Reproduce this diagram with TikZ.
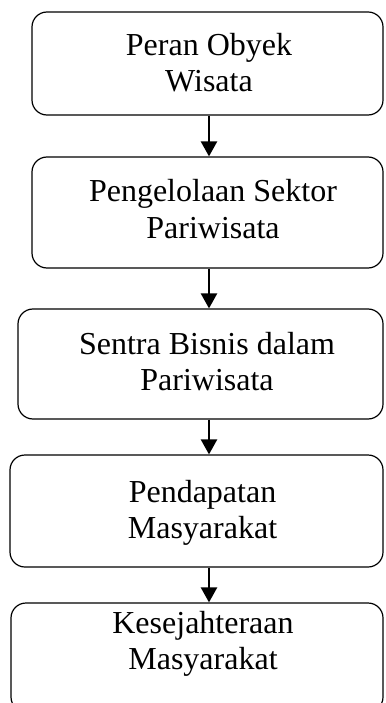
\documentclass[tikz,border=0pt]{standalone}
\usepackage{fontspec}
\setmainfont{Liberation Serif}
\usetikzlibrary{arrows.meta,positioning,calc}

\begin{document}
\begin{tikzpicture}[x=1pt, y=-1pt,
    kotak/.style={rectangle, draw, rounded corners=15pt, line width=1.2pt, inner sep=0pt},
    teks/.style={align=center, inner sep=0pt, font=\fontsize{32}{36.5}\selectfont},
    panah/.style={-{Triangle[width=16pt,length=15pt]}, line width=2.4pt}]

\useasboundingbox (0,0) rectangle (385,703);
\clip (0,0) rectangle (385,703);

    % kotak-kotak

\node[kotak, minimum width=351pt, minimum height=103pt] (peran) at (207.5,63.5) {};
\node[kotak, minimum width=351pt, minimum height=111pt] (pengelolaan) at (207.5,212.5) {};
\node[kotak, minimum width=365pt, minimum height=110pt] (sentra) at (200.5,364) {};
\node[kotak, minimum width=373pt, minimum height=112pt] (pendapatan) at (196.5,511) {};
\node[kotak, minimum width=372pt, minimum height=109pt] (kesejahteraan) at (197,657.5) {};

    % teks

\node[teks] (peranT) at (209,66) {\strut Peran Obyek\\\strut Wisata};
\node[teks] (pengelolaanT) at (213,212.6) {\strut Pengelolaan Sektor\\\strut Pariwisata};
\node[teks] (sentraT) at (207,365) {\strut Sentra Bisnis dalam\\\strut Pariwisata};
\node[teks] (pendapatanT) at (202.5,513) {\strut Pendapatan\\\strut Masyarakat};
\node[teks] (kesejahteraanT) at (203,644) {\strut Kesejahteraan\\\strut Masyarakat};

    % -------

\coordinate (arrx) at (209,0);
\draw[panah] (peran.south -| arrx) -- (pengelolaan.north -| arrx);
\draw[panah] (pengelolaan.south -| arrx) -- (sentra.north -| arrx);
\draw[panah] (sentra.south -| arrx) -- (pendapatan.north -| arrx);
\draw[panah] (pendapatan.south -| arrx) -- (kesejahteraan.north -| arrx);

\end{tikzpicture}
\end{document}
